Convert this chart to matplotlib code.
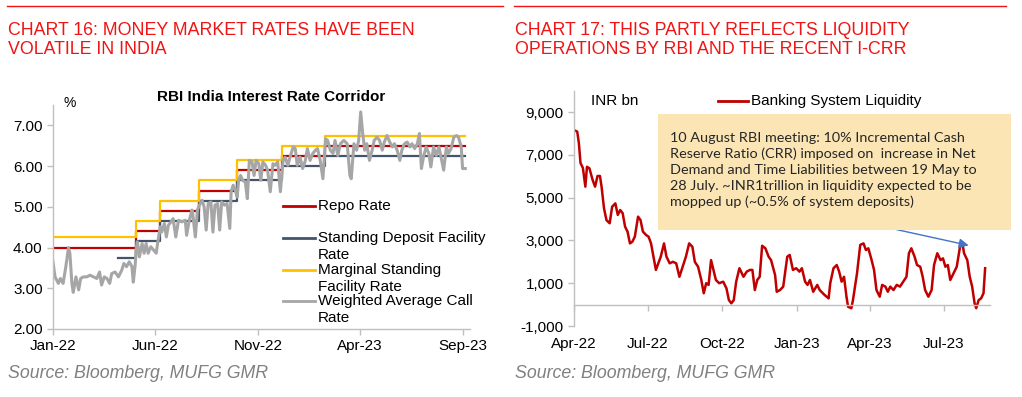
import numpy as np
import pandas as pd
import matplotlib
matplotlib.use("Agg")
import matplotlib.pyplot as plt
from matplotlib.lines import Line2D
from matplotlib.patches import Rectangle

plt.rcParams['font.family'] = ['Liberation Sans', 'DejaVu Sans']

# -------------------------------
# Dane - wykres 16 (stopy RBI)
# -------------------------------
repo_dates = ['2022-01-01', '2022-05-04', '2022-06-08', '2022-08-05', '2022-09-30',
              '2022-12-07', '2023-02-08', '2023-09-04']
repo_vals = [4.00, 4.40, 4.90, 5.40, 5.90, 6.25, 6.50, 6.50]

sdf_dates = ['2022-04-08', '2022-05-04', '2022-06-08', '2022-08-05', '2022-09-30',
             '2022-12-07', '2023-02-08', '2023-09-04']
sdf_vals = [3.75, 4.15, 4.65, 5.15, 5.65, 6.00, 6.25, 6.25]

msf_dates = repo_dates
msf_vals = [4.25, 4.65, 5.15, 5.65, 6.15, 6.50, 6.75, 6.75]

# dni od 2022-01-01
wacr_day = [0, 3, 8, 11, 15, 19, 23, 25, 28, 30, 34, 38, 41, 45, 50, 55, 60, 65, 69, 72,
            76, 80, 84, 87, 92, 97, 102, 105, 109, 113, 117, 119, 122, 123, 125, 128, 132,
            135, 138, 141, 145, 149, 153, 155, 159, 161, 165, 168, 171, 175, 178, 182, 186,
            191, 196, 198, 202, 206, 207, 211, 214, 217, 221, 224, 227, 230, 234, 237, 240,
            244, 247, 250, 254, 258, 262, 264, 267, 270, 273, 275, 278, 281, 285, 288, 291,
            295, 298, 301, 305, 308, 311, 315, 318, 322, 326, 329, 333, 337, 341, 344, 348,
            352, 356, 359, 362, 366, 370, 374, 377, 381, 385, 389, 392, 396, 400, 404, 407,
            411, 415, 418, 422, 426, 431, 436, 440, 442, 446, 450, 453, 456, 459, 462, 465,
            469, 473, 476, 480, 484, 488, 491, 495, 499, 503, 506, 510, 514, 517, 521, 525,
            529, 532, 536, 540, 543, 546, 549, 553, 557, 560, 564, 568, 572, 575, 579, 583,
            586, 590, 594, 598, 601, 605, 607, 611]
wacr_vals = [3.65, 3.28, 3.12, 3.24, 3.12, 3.53, 4.00, 3.86, 3.12, 2.90, 3.28, 2.96, 3.24,
             3.28, 3.28, 3.32, 3.28, 3.24, 3.40, 3.08, 3.28, 3.24, 3.12, 3.36, 3.40, 3.28,
             3.45, 3.61, 3.53, 3.65, 3.53, 3.15, 3.61, 3.94, 4.14, 3.77, 4.10, 3.86, 4.10,
             3.86, 4.02, 3.94, 3.86, 4.10, 4.51, 4.38, 4.59, 4.26, 4.55, 4.63, 4.71, 4.26,
             4.67, 4.63, 4.67, 4.30, 4.67, 4.92, 4.84, 4.26, 4.92, 5.04, 5.16, 5.00, 4.43,
             5.08, 5.12, 4.38, 5.04, 5.08, 4.43, 5.12, 5.04, 5.08, 4.47, 5.37, 5.53, 5.41,
             5.24, 5.65, 5.77, 5.65, 5.61, 5.20, 6.14, 6.10, 5.77, 6.14, 6.06, 5.65, 6.10,
             6.02, 5.90, 5.37, 6.06, 6.02, 6.10, 5.37, 6.14, 6.22, 6.02, 6.26, 6.47, 6.43,
             6.02, 6.22, 5.94, 6.14, 6.43, 6.14, 6.31, 6.39, 6.43, 6.14, 5.69, 6.67, 6.63,
             6.39, 6.31, 6.63, 6.26, 6.55, 6.63, 6.55, 5.77, 5.69, 6.55, 6.39, 6.63, 7.33,
             6.80, 6.39, 6.55, 6.14, 6.39, 6.63, 6.71, 6.63, 6.39, 6.59, 6.75, 6.59, 6.47,
             6.55, 6.39, 6.14, 6.39, 6.55, 6.59, 6.47, 6.55, 6.43, 6.55, 6.80, 5.94, 6.22,
             6.47, 6.31, 5.98, 6.47, 6.26, 6.47, 6.22, 5.90, 6.47, 6.31, 6.43, 6.71, 6.75,
             6.71, 6.47, 5.94, 5.94]

left_ticks = ['2022-01-01', '2022-06-01', '2022-11-01', '2023-04-01', '2023-09-01']
left_ticklabels = ['Jan-22', 'Jun-22', 'Nov-22', 'Apr-23', 'Sep-23']

# -------------------------------
# Dane - wykres 17 (płynność)
# -------------------------------
# dni od 2022-04-01, INR bn
liq_day = [0, 4, 6, 8, 11, 14, 16, 19, 23, 26, 29, 32, 34, 37, 40, 44, 47, 51, 54, 57, 60,
           63, 66, 69, 72, 75, 79, 82, 85, 89, 92, 95, 98, 101, 104, 107, 111, 114, 118,
           122, 126, 130, 134, 138, 142, 146, 149, 153, 157, 160, 163, 166, 169, 172, 175,
           179, 184, 188, 191, 194, 197, 200, 204, 207, 209, 213, 217, 220, 223, 226, 229,
           232, 236, 240, 243, 248, 250, 254, 258, 263, 266, 270, 274, 278, 281, 285, 288,
           291, 295, 300, 303, 309, 314, 316, 320, 324, 327, 330, 333, 336, 338, 342, 344,
           349, 353, 357, 360, 363, 367, 370, 373, 377, 380, 384, 387, 390, 394, 398, 402,
           406, 410, 413, 416, 420, 423, 427, 430, 433, 437, 441, 444, 448, 452, 455, 458,
           461, 464, 467, 472, 476, 479, 481, 485, 488, 491, 494, 496, 499, 502, 505, 507]
liq_vals = [8160, 8080, 7550, 6620, 6380, 5510, 6440, 6370, 5820, 5510, 6010, 6010, 5510,
            4500, 3950, 3800, 4570, 4730, 4190, 4420, 4270, 3640, 3410, 2860, 2940, 3170,
            4110, 3950, 3410, 3250, 3170, 2860, 2240, 1620, 1930, 2240, 2860, 2240, 1930,
            2000, 1930, 1300, 1770, 2240, 2860, 2700, 2000, 1770, 1150, 530, 1000, 920, 2080,
            1620, 1150, 1000, 1070, 760, 210, 60, 210, 1070, 1700, 1460, 1300, 1540, 1620,
            1620, 680, 1150, 1300, 2750, 2630, 2240, 2080, 1380, 600, 680, 840, 2240, 2320,
            1620, 1700, 1540, 1700, 1070, 920, 1150, 600, 920, 680, 450, 290, 1000, 1700,
            1850, 1540, 1070, 1300, 370, -100, -170, 210, 1460, 2790, 2860, 2550, 2630,
            2080, 1620, 680, 370, 920, 840, 600, 840, 680, 920, 840, 1070, 1300, 2400, 2630,
            2240, 1850, 1770, 1300, 680, 370, 680, 1850, 2400, 2080, 2160, 1770, 1850, 1150,
            1380, 1770, 2700, 2860, 2400, 2080, 1300, 840, 60, -170, 210, 290, 530, 1700]

right_ticks = ['2022-04-01', '2022-07-01', '2022-10-01', '2023-01-01', '2023-04-01', '2023-07-01']
right_ticklabels = ['Apr-22', 'Jul-22', 'Oct-22', 'Jan-23', 'Apr-23', 'Jul-23']

note_text = ("10 August RBI meeting: 10% Incremental Cash\n"
             "Reserve Ratio (CRR) imposed on  increase in Net\n"
             "Demand and Time Liabilities between 19 May to\n"
             "28 July. ~INR1trillion in liquidity expected to be\n"
             "mopped up (~0.5% of system deposits)")

# -------------------------------
# Styl
# -------------------------------
W, H = 1022, 397
TITLE_RED = '#F01414'
C_REPO = '#C00000'
C_SDF = '#44546A'
C_MSF = '#FFC000'
C_WACR = '#A6A6A6'
C_SPINE = '#BFBFBF'
FS = 11


def fx(px):
    return px / W


def fy(py):
    return 1 - py / H


fig = plt.figure(figsize=(W / 100, H / 100), dpi=100)

# nagłówki
for x0, x1 in [(7, 503), (514, 1006)]:
    fig.add_artist(Line2D([fx(x0), fx(x1)], [fy(6), fy(6)], color=TITLE_RED, lw=1.0))
fig.text(fx(8), fy(40), "CHART 16: MONEY MARKET RATES HAVE BEEN\nVOLATILE IN INDIA",
         color=TITLE_RED, fontsize=12.8, va='center', ha='left', linespacing=1.17)
fig.text(fx(515), fy(40), "CHART 17: THIS PARTLY REFLECTS LIQUIDITY\nOPERATIONS BY RBI AND THE RECENT I-CRR",
         color=TITLE_RED, fontsize=12.8, va='center', ha='left', linespacing=1.17)
for x0 in (8, 515):
    fig.text(fx(x0), fy(373), "Source: Bloomberg, MUFG GMR", color='#808080',
             fontsize=12.8, style='italic', va='center', ha='left')

# -------------------------------
# Wykres 16
# -------------------------------
ax1 = fig.add_axes([fx(53), fy(329), fx(470) - fx(53), fy(105) - fy(329)])
ax1.step(pd.to_datetime(repo_dates), repo_vals, where='post', color=C_REPO, lw=1.6)
ax1.step(pd.to_datetime(sdf_dates), sdf_vals, where='post', color=C_SDF, lw=1.6)
ax1.step(pd.to_datetime(msf_dates), msf_vals, where='post', color=C_MSF, lw=1.6)
wacr_dates = pd.Timestamp('2022-01-01') + pd.to_timedelta(wacr_day, unit='D')
ax1.plot(wacr_dates, wacr_vals, color=C_WACR, lw=2.2)

ax1.set_ylim(2, 7.5)
ax1.set_yticks([2, 3, 4, 5, 6, 7])
ax1.yaxis.set_major_formatter(plt.FuncFormatter(lambda v, p: f"{v:.2f}"))
ax1.set_xlim(pd.Timestamp('2022-01-01'), pd.Timestamp('2023-09-11'))
ax1.set_xticks(pd.to_datetime(left_ticks))
ax1.set_xticklabels(left_ticklabels)

fig.text(fx(271), fy(97), "RBI India Interest Rate Corridor", fontsize=11,
         fontweight='bold', ha='center', va='center')
fig.text(fx(70), fy(103), "%", fontsize=10, ha='center', va='center')

# legenda rysowana ręcznie (jak w Excelu)
leg_items = [("Repo Rate", C_REPO, 206),
             ("Standing Deposit Facility\nRate", C_SDF, 238),
             ("Marginal Standing\nFacility Rate", C_MSF, 270),
             ("Weighted Average Call\nRate", C_WACR, 301)]
for lab, col, yy in leg_items:
    fig.add_artist(Line2D([fx(283), fx(315)], [fy(yy), fy(yy)], color=col, lw=2.0))
    for i, ln in enumerate(lab.split('\n')):
        fig.text(fx(318), fy(yy + i * 17), ln, fontsize=FS, ha='left', va='center')

# -------------------------------
# Wykres 17
# -------------------------------
ax2 = fig.add_axes([fx(574), fy(326), fx(990) - fx(574), fy(90.6) - fy(326)])
liq_dates = pd.Timestamp('2022-04-01') + pd.to_timedelta(liq_day, unit='D')
ax2.plot(liq_dates, liq_vals, color=C_REPO, lw=1.8)
ax2.set_ylim(-1000, 10000)
ax2.set_yticks([-1000, 1000, 3000, 5000, 7000, 9000])
ax2.yaxis.set_major_formatter(plt.FuncFormatter(lambda v, p: f"{int(v):,}"))
ax2.set_xlim(pd.Timestamp('2022-04-01'), pd.Timestamp('2023-08-27'))
ax2.set_xticks(pd.to_datetime(right_ticks))
ax2.set_xticklabels(right_ticklabels)
ax2.spines['bottom'].set_position(('data', 0))

for ax in (ax1, ax2):
    for s in ('top', 'right'):
        ax.spines[s].set_visible(False)
    for s in ('left', 'bottom'):
        ax.spines[s].set_color(C_SPINE)
        ax.spines[s].set_linewidth(1.0)
    ax.tick_params(colors=C_SPINE, labelcolor='black', labelsize=FS, length=4, width=1.0)
    ax.patch.set_alpha(0)

ax1.tick_params(axis='x', pad=3)
ax2.tick_params(axis='x', pad=19)

fig.text(fx(591), fy(101), "INR bn", fontsize=FS, ha='left', va='center')
fig.add_artist(Line2D([fx(718), fx(748)], [fy(101), fy(101)], color=C_REPO, lw=2.0))
fig.text(fx(751), fy(101), "Banking System Liquidity", fontsize=FS, ha='left', va='center')

# ramka z komentarzem
fig.add_artist(Rectangle((fx(658), fy(230)), fx(1011) - fx(658), fy(114) - fy(230),
                         transform=fig.transFigure, facecolor='#FCE5B5', edgecolor='none'))
fig.text(fx(670), fy(170), note_text, fontsize=10.4, family=['Lato', 'DejaVu Sans'],
         color='#262626', ha='left', va='center', linespacing=1.38)

# strzałka
ax2.annotate("", xy=(pd.Timestamp('2022-04-01') + pd.Timedelta(days=490), 2740),
             xytext=(pd.Timestamp('2022-04-01') + pd.Timedelta(days=390), 3570),
             arrowprops=dict(arrowstyle='-|>', color='#4472C4', lw=1.0, mutation_scale=14),
             annotation_clip=False)

fig.savefig("out.png", dpi=100)
